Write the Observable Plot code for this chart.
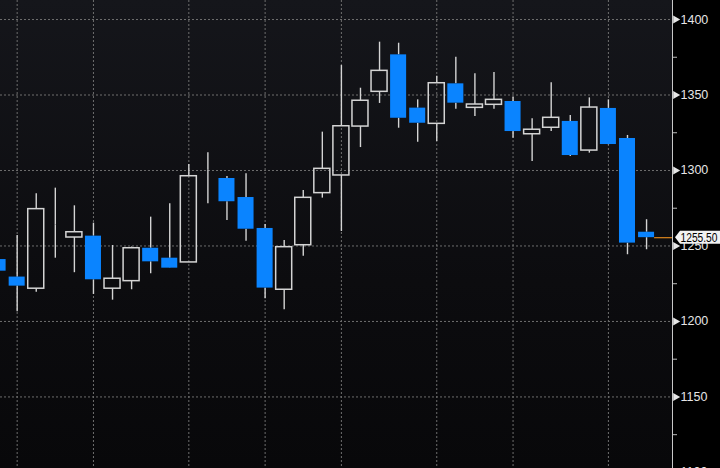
<!DOCTYPE html>
<html><head><meta charset="utf-8">
<script src="https://cdn.jsdelivr.net/npm/d3@7"></script>
<script src="https://cdn.jsdelivr.net/npm/@observablehq/plot@0.6"></script>
<style>
html,body{margin:0;padding:0;background:#000;overflow:hidden;}
#chart svg{display:block;background:linear-gradient(to right, rgba(0,0,0,0) 672px, #000 672px), linear-gradient(#15161b, #0c0c0f 60%, #08080a) !important;}
</style></head><body><div id="chart"></div>
<script>
// Daily candles (index 0 is the partially cut-off first bar)
const openVals  = [1241, 1229.4, 1221.7, 1264, 1255.6, 1256.5, 1221.7, 1226.7, 1248.5, 1241.9, 1239.1, 1300.2, 1294.7, 1282.1, 1261.6, 1221, 1250.5, 1285, 1296.7, 1329.1, 1352.1, 1376.6, 1341.3, 1330.9, 1357.4, 1341.5, 1343.5, 1345.7, 1324, 1328.3, 1332.5, 1313.2, 1341.1, 1321.2, 1259.1];
const closeVals = [1233.3, 1223.4, 1274.4, 1264, 1259.1, 1227.6, 1228.3, 1248.5, 1239.5, 1235.3, 1296.2, 1300.2, 1279.3, 1261.1, 1222.1, 1249.2, 1281.9, 1301.1, 1329.3, 1346.2, 1366, 1334.6, 1331.3, 1357.8, 1344.6, 1343.7, 1346.8, 1325.8, 1327, 1334.9, 1309.9, 1341.7, 1317.2, 1251.9, 1255.5];
const highVals  = [1246, 1257, 1284.6, 1288.3, 1276.6, 1265.1, 1250.3, 1249.3, 1269.1, 1278, 1304, 1311.7, 1296, 1297.8, 1264.2, 1253.6, 1286.8, 1325.4, 1369.5, 1354.5, 1385, 1384.3, 1346.8, 1362.5, 1375, 1364, 1364.9, 1348.5, 1334.2, 1358.1, 1336.4, 1348.1, 1346.8, 1323.2, 1267.4];
const lowVals   = [1228, 1206.4, 1219.4, 1241.9, 1232.3, 1217.9, 1214.1, 1221, 1231.6, 1235, 1239, 1278, 1266.9, 1253.2, 1215, 1207.7, 1243.2, 1281.7, 1259.6, 1315.2, 1344.4, 1328, 1318.7, 1319.2, 1340.6, 1335.8, 1340.6, 1321.4, 1306, 1325.8, 1309.3, 1311.5, 1317, 1244.2, 1247.5];
const gridIdx   = [1, 5, 10, 14, 18, 23, 27, 32];
const majorTicks = [1100, 1150, 1200, 1250, 1300, 1350, 1400];
const minorTicks = [1125, 1175, 1225, 1275, 1325, 1375];
const lastPrice = 1255.50;

const data = openVals.map((o, i) => ({i, open: o, close: closeVals[i], high: highVals[i], low: lowVals[i], up: closeVals[i] >= o}));
const upData = data.filter(d => d.up);
const downData = data.filter(d => !d.up);

const xDomain = [0.126, 35.36];
const yDomain = [1102.6, 1412.6];
const BLUE = "#0a84ff";
const WHITE = "#d4d4d4";
const GRID = "#6e6e6e";
const HW = 0.42;

const tagMark = (index, scales, values, dimensions) => {
  const y = scales.y(lastPrice);
  const x0 = dimensions.width - dimensions.marginRight + 3;
  const g = d3.create("svg:g");
  g.append("path")
    .attr("d", `M${x0},${y} L${x0 + 5},${y - 6.5} H${x0 + 60} V${y + 6.5} H${x0 + 5} Z`)
    .attr("fill", "#f2f2f2");
  g.append("text").attr("x", x0 + 5.5).attr("y", y).attr("dy", "0.36em")
    .attr("text-anchor", "start").attr("font-size", "12.5px")
    .attr("textLength", 37).attr("lengthAdjust", "spacingAndGlyphs")
    .attr("fill", "#000").text(lastPrice.toFixed(2));
  return g.node();
};

const chart = Plot.plot({
  width: 720, height: 468,
  marginLeft: 0, marginRight: 48, marginTop: 0, marginBottom: 0,
  style: {color: "#e6e6e6", fontFamily: "'Liberation Sans Narrow', 'Arial Narrow', 'Liberation Sans', sans-serif", fontSize: "12.5px"},
  x: {domain: xDomain, axis: null},
  y: {domain: yDomain, axis: null},
  marks: [
    Plot.ruleY(majorTicks, {stroke: GRID, strokeDasharray: "2,2", strokeWidth: 1}),
    Plot.ruleX(gridIdx, {stroke: GRID, strokeDasharray: "2,2", strokeWidth: 1}),
    Plot.ruleX(data, {x: "i", y1: "high", y2: d => Math.max(d.open, d.close), stroke: WHITE, strokeWidth: 1.4, clip: true}),
    Plot.ruleX(data, {x: "i", y1: d => Math.min(d.open, d.close), y2: "low", stroke: WHITE, strokeWidth: 1.4, clip: true}),
    Plot.rect(downData, {x1: d => d.i - HW, x2: d => d.i + HW, y1: "open", y2: "close", fill: BLUE, clip: true}),
    Plot.rect(upData, {x1: d => d.i - HW, x2: d => d.i + HW, y1: "open", y2: "close", fill: "none", stroke: WHITE, strokeWidth: 1.5, clip: true}),
    Plot.ruleY([lastPrice], {x1: data[data.length - 1].i + HW, x2: xDomain[1], stroke: "#c97a1c", strokeWidth: 1.3}),
    Plot.frame({anchor: "right", stroke: "#c8c8c8"}),
    Plot.axisY(minorTicks, {anchor: "right", tickSize: 4, tickFormat: () => "", stroke: "#bbbbbb"}),
    Plot.axisY(majorTicks, {anchor: "right", tickSize: 0, tickPadding: 8, tickFormat: d => String(d), fill: "#e6e6e6"}),
    Plot.dot(majorTicks, {y: d => d, frameAnchor: "right", symbol: "triangle", rotate: 90, r: 3, fill: "#e6e6e6", dx: 3}),
    tagMark
  ]
});
document.getElementById("chart").append(chart);
</script>
</body></html>
